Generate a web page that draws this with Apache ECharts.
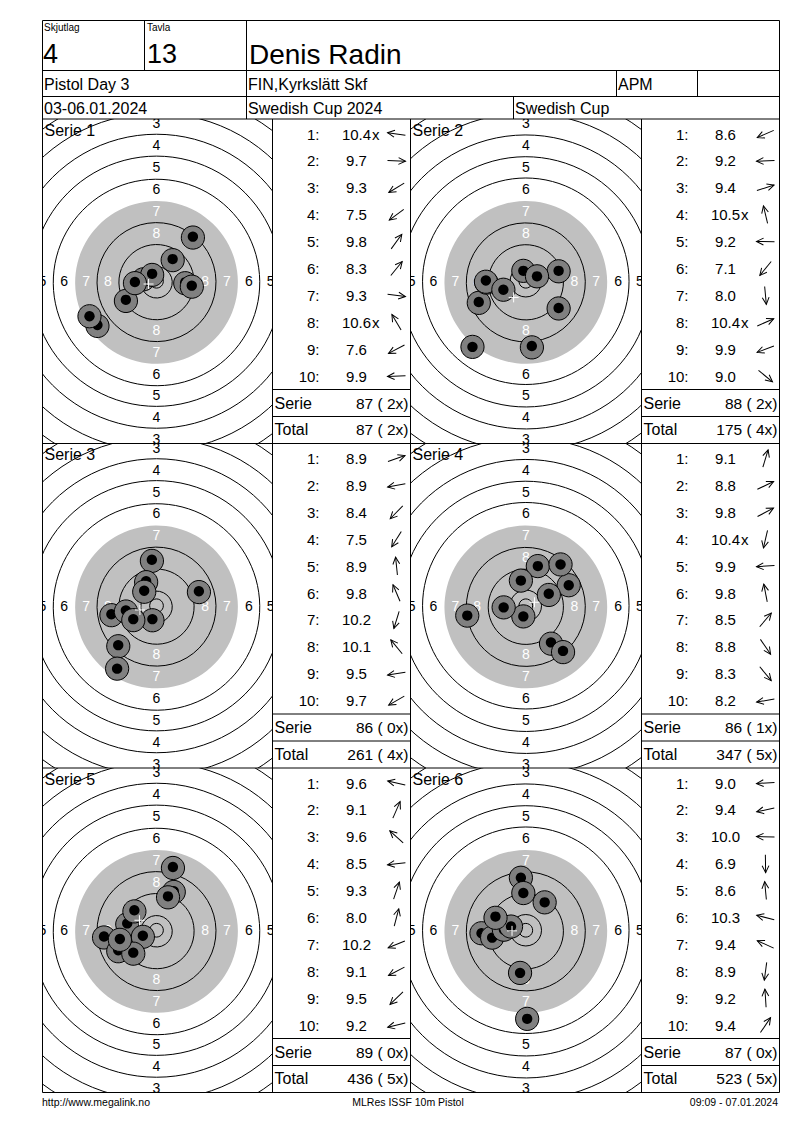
<!DOCTYPE html>
<html><head><meta charset="utf-8">
<script src="https://cdn.jsdelivr.net/npm/echarts@6/dist/echarts.min.js"></script>
<style>html,body{margin:0;padding:0;background:#fff}#c{width:800px;height:1130px}</style>
</head><body><div id="c"></div>
<script>
// ---------- header data ----------
const headerLabels = ['Skjutlag', 'Tavla'];
const headerValues = ['4', '13'];
const shooterName = 'Denis Radin';
const eventName = 'Pistol Day 3';
const clubName = 'FIN,Kyrkslätt Skf';
const classLabel = 'APM';
const dateText = '03-06.01.2024';
const competition = 'Swedish Cup 2024';
const cupName = 'Swedish Cup';
const footerTexts = ['http://www.megalink.no', 'MLRes ISSF 10m Pistol', '09:09 - 07.01.2024'];

// ---------- target geometry (mm) ----------
const innerTen = 2.5;
const ringEdges = [5.75, 13.75, 21.75, 29.75, 37.75, 45.75, 53.75, 61.75, 69.75, 77.75]; // rings 10..1
const blackEdge = 29.75;
const ringLabelValues = [8, 7, 6, 5, 4, 3];

// ---------- series data (shot x,y in mm, y up) ----------
const serieNames = ['Serie 1', 'Serie 2', 'Serie 3', 'Serie 4', 'Serie 5', 'Serie 6'];
const shots1 = [[-4.8,0.7],[10.5,-0.4],[-11.2,-6.8],[-21.6,-16.0],[5.9,8.1],[13.3,16.3],[12.9,-1.6],[-1.6,2.7],[-24.5,-12.8],[-7.9,-0.3]];
const scores1 = ['10.4x','9.7','9.3','7.5','9.8','8.3','9.3','10.6x','7.6','9.9'];
const shots2 = [[-17.2,-7.6],[-14.4,-0.5],[12.0,3.8],[-0.9,3.8],[-14.6,0.3],[-19.5,-24.0],[2.2,-23.7],[4.1,1.8],[-8.2,-3.1],[12.0,-9.8]];
const scores2 = ['8.6','9.2','9.4','10.5x','9.2','7.1','8.0','10.4x','9.9','9.0'];
const shots3 = [[15.5,5.3],[-16.5,-3.1],[-14.0,-14.4],[-14.4,-23.0],[-1.7,16.8],[-3.8,9.0],[-1.5,-4.9],[-4.5,5.5],[-11.2,-1.7],[-8.5,-4.9]];
const scores3 = ['8.9','8.9','8.4','7.5','8.9','9.8','10.2','10.1','9.5','9.7'];
const shots4 = [[4.4,14.5],[15.7,7.5],[8.4,4.4],[-0.9,-3.9],[-8.1,-0.6],[-1.8,9.2],[12.7,15.1],[9.2,-13.4],[13.6,-16.5],[-21.4,-3.6]];
const scores4 = ['9.1','8.8','9.8','10.4x','9.9','9.8','8.5','8.8','8.3','8.2'];
const shots5 = [[-10.7,2.5],[6.3,14.3],[-8.1,7.3],[-19.2,-2.3],[4.2,12.4],[6.0,23.1],[-5.0,-2.0],[-14.0,-7.3],[-8.5,-8.2],[-13.4,-3.2]];
const scores5 = ['9.6','9.1','9.6','8.5','9.3','8.0','10.2','9.1','9.5','9.2'];
const shots6 = [[-16.2,-1.1],[-12.3,-2.7],[-8.0,0.2],[0.5,-32.4],[-1.8,19.2],[-5.4,1.35],[-11.1,5.0],[-2.1,-15.6],[-0.9,13.6],[6.9,10.2]];
const scores6 = ['9.0','9.4','10.0','6.9','8.6','10.3','9.4','8.9','9.2','9.4'];

const allShots = [shots1, shots2, shots3, shots4, shots5, shots6];
const allScores = [scores1, scores2, scores3, scores4, scores5, scores6];

// ---------- layout ----------
const FONT = 'Liberation Sans, Arial, sans-serif';
const PX_PER_MM = 2.735;
const colLeft = [42.5, 410.5];
const targetW = [230, 231];
const centerOffX = [114, 115.3];
const tableW = 138;
const rowTop = [119, 443.5, 768];
const rowH = 324.5;
const rightEdge = 779.5;

const drawnRings = [innerTen].concat(ringEdges.filter(r => r !== blackEdge));
const labelDist = ringLabelValues.map(n => (ringEdges[10 - n - 1] + ringEdges[10 - n]) / 2);

const grids = [], xAxes = [], yAxes = [], series = [], graphics = [];

function L(x1, y1, x2, y2) {
  graphics.push({type: 'line', z: 50, silent: true, shape: {x1, y1, x2, y2}, style: {stroke: '#000', lineWidth: 1}});
}
function T(x, y, text, size, opt) {
  opt = opt || {};
  graphics.push({type: 'text', z: 60, silent: true, x, y,
    style: {text, fill: opt.fill || '#000', font: (opt.weight || 'normal') + ' ' + size + 'px ' + FONT,
      align: opt.align || 'left', verticalAlign: opt.va || 'middle'}});
}
function pad2(n) { const s = String(n); return s.length < 2 ? ' ' + s : s; }
function csRect(p) { const cs = p.coordSys; return {x: cs.x, y: cs.y, width: cs.width, height: cs.height}; }

let cumTotal = 0, cumX = 0;
allShots.forEach((shots, i) => {
  const r = Math.floor(i / 2), c = i % 2;
  const left = colLeft[c], top = rowTop[r], w = targetW[c];
  grids.push({left, top, width: w, height: rowH, containLabel: false, show: false});
  const xl = centerOffX[c] / PX_PER_MM, xr = (w - centerOffX[c]) / PX_PER_MM, hy = rowH / 2 / PX_PER_MM;
  xAxes.push({type: 'value', gridIndex: i, min: -xl, max: xr, show: false});
  yAxes.push({type: 'value', gridIndex: i, min: -hy, max: hy, show: false});
  const base = {type: 'custom', xAxisIndex: i, yAxisIndex: i, clip: true, silent: true, animation: false};
  // grey disc
  series.push(Object.assign({}, base, {z: 1, data: [[blackEdge, 0]], renderItem: (p, api) => {
    const ctr = api.coord([0, 0]); const rr = api.size([api.value(0), 0])[0];
    return {type: 'circle', shape: {cx: ctr[0], cy: ctr[1], r: rr}, style: {fill: '#c0c0c0', stroke: null}};
  }}));
  // rings
  series.push(Object.assign({}, base, {z: 2, data: drawnRings.map(v => [v, 0]), renderItem: (p, api) => {
    const ctr = api.coord([0, 0]); const rr = api.size([api.value(0), 0])[0];
    return {type: 'circle', shape: {cx: ctr[0], cy: ctr[1], r: rr}, style: {fill: 'none', stroke: '#000', lineWidth: 1}};
  }}));
  // ring numbers (only those that reach into the panel)
  series.push(Object.assign({}, base, {z: 3, data: ringLabelValues.map((n, k) => [n, labelDist[k]]), renderItem: (p, api) => {
    const n = api.value(0), d = api.value(1);
    const rc = csRect(p);
    const pts = [[0, d], [0, -d], [d, 0], [-d, 0]].map(pt => api.coord(pt))
      .filter(q => q[0] + 4 > rc.x && q[0] - 4 < rc.x + rc.width && q[1] + 6 > rc.y && q[1] - 6 < rc.y + rc.height);
    return {type: 'group', clipPath: {type: 'rect', shape: rc}, children: pts.map(q => ({
      type: 'text', x: q[0], y: q[1], style: {text: String(n), fill: n >= 7 ? '#fff' : '#000',
        font: '14px ' + FONT, align: 'center', verticalAlign: 'middle'}}))};
  }}));
  // shots
  series.push(Object.assign({}, base, {z: 4, data: shots, renderItem: (p, api) => {
    const q = api.coord([api.value(0), api.value(1)]);
    const ro = api.size([4.25, 0])[0], ri = api.size([1.9, 0])[0];
    return {type: 'group', children: [
      {type: 'circle', shape: {cx: q[0], cy: q[1], r: ro}, style: {fill: '#808080', stroke: '#000', lineWidth: 1}},
      {type: 'circle', shape: {cx: q[0], cy: q[1], r: ri}, style: {fill: '#000', stroke: null}}
    ]};
  }}));
  // mean point cross
  const mx = shots.reduce((s, v) => s + v[0], 0) / shots.length;
  const my = shots.reduce((s, v) => s + v[1], 0) / shots.length;
  series.push(Object.assign({}, base, {z: 5, data: [[mx, my]], renderItem: (p, api) => {
    const q = api.coord([api.value(0), api.value(1)]);
    return {type: 'group', children: [
      {type: 'line', shape: {x1: q[0] - 5, y1: q[1], x2: q[0] + 5, y2: q[1]}, style: {stroke: '#fff', lineWidth: 1}},
      {type: 'line', shape: {x1: q[0], y1: q[1] - 5, x2: q[0], y2: q[1] + 5}, style: {stroke: '#fff', lineWidth: 1}}
    ]};
  }}));
  // serie label
  T(left + 2, top + 3, serieNames[i], 16, {va: 'top'});

  // table
  const tl = left + w;
  const scores = allScores[i];
  let sum = 0, xs = 0;
  scores.forEach((s, k) => {
    const y = top + 15 + k * 26.9;
    const isX = s.indexOf('x') >= 0;
    const val = s.replace('x', '');
    sum += Math.floor(parseFloat(val));
    if (isX) xs++;
    T(tl + 47, y, (k + 1) + ':', 15, {align: 'right'});
    T(tl + 84, y, val, 15, {align: 'center'});
    if (isX) T(tl + 99.5, y, 'x', 15, {align: 'left'});
    const sh = shots[k];
    const ang = Math.atan2(sh[1], sh[0]);
    graphics.push({type: 'group', z: 60, silent: true, x: tl + 124, y: y, rotation: ang, children: [
      {type: 'line', shape: {x1: -9, y1: 0, x2: 9, y2: 0}, style: {stroke: '#000', lineWidth: 1}},
      {type: 'polyline', shape: {points: [[2, -3.4], [9, 0], [2, 3.4]]}, style: {stroke: '#000', fill: null, lineWidth: 1}}
    ]});
  });
  cumTotal += sum; cumX += xs;
  L(tl, top + 270.5, tl + tableW, top + 270.5);
  L(tl, top + 297.5, tl + tableW, top + 297.5);
  T(tl + 2, top + 284.3, 'Serie', 16);
  T(tl + 136, top + 284.3, sum + ' (' + pad2(xs) + 'x)', 15.5, {align: 'right'});
  T(tl + 2, top + 310.8, 'Total', 16);
  T(tl + 136, top + 310.8, cumTotal + ' (' + pad2(cumX) + 'x)', 15.5, {align: 'right'});
});

// panel frame lines
[42.5, 272.5, 410.5, 641.5, 779.5].forEach(x => L(x, 119, x, 1092.5));
[443.5, 768, 1092.5].forEach(y => L(42.5, y, rightEdge, y));

// header lines
L(42.5, 20.5, rightEdge, 20.5);
L(42.5, 70.5, rightEdge, 70.5);
L(42.5, 96.5, rightEdge, 96.5);
L(42.5, 119, rightEdge, 119);
L(42.5, 20.5, 42.5, 119);
L(rightEdge, 20.5, rightEdge, 119);
L(144.5, 20.5, 144.5, 70.5);
L(246.5, 20.5, 246.5, 119);
L(616.5, 70.5, 616.5, 96.5);
L(697.5, 70.5, 697.5, 96.5);
L(513.5, 96.5, 513.5, 119);

// header texts
T(44, 27, headerLabels[0], 10);
T(147, 27, headerLabels[1], 10);
T(43, 54, headerValues[0], 27);
T(147, 54, headerValues[1], 27);
T(249, 54, shooterName, 28);
T(44, 84.5, eventName, 16);
T(248, 84.5, clubName, 16);
T(618, 84.5, classLabel, 16);
T(44, 108.5, dateText, 16);
T(248, 108.5, competition, 16);
T(515, 108.5, cupName, 16);

// footer
T(42, 1102, footerTexts[0], 10.5);
T(408, 1102, footerTexts[1], 10.5, {align: 'center'});
T(778, 1102, footerTexts[2], 10.5, {align: 'right'});

const chart = echarts.init(document.getElementById('c'), null, {renderer: 'svg', width: 800, height: 1130});
chart.setOption({
  animation: false,
  backgroundColor: '#fff',
  grid: grids, xAxis: xAxes, yAxis: yAxes, series: series,
  graphic: {elements: graphics}
});
</script></body></html>
